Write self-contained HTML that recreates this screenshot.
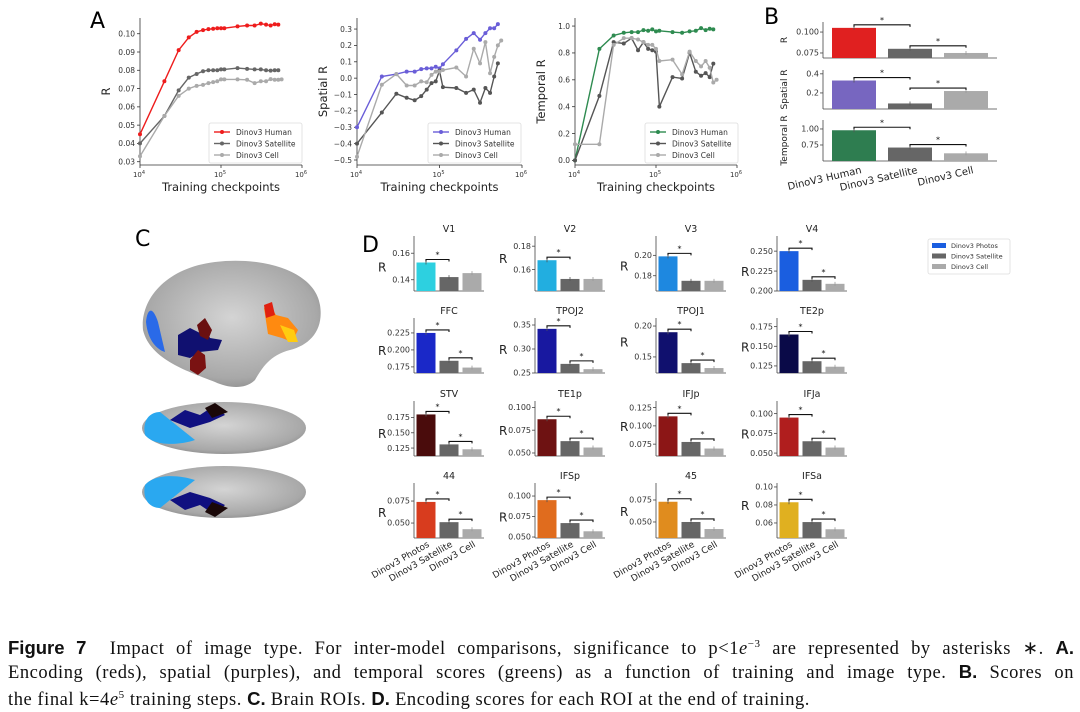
<!DOCTYPE html>
<html><head><meta charset="utf-8">
<style>
body{margin:0;background:#fff;width:1080px;height:707px;overflow:hidden;font-family:"DejaVu Sans","Liberation Sans",sans-serif}
svg text{font-family:"DejaVu Sans","Liberation Sans",sans-serif}
#cap{position:absolute;left:8px;top:633px;width:1066px;font-family:"Liberation Serif",serif;font-size:18.5px;letter-spacing:0.55px;line-height:22.5px;color:#111}
#cap div{white-space:nowrap;text-align:justify;text-align-last:justify}
#cap div.last{text-align-last:left}
#cap b{font-family:"Liberation Sans",sans-serif;font-weight:bold;letter-spacing:0}
</style></head><body>
<svg id="fig" width="1080" height="630" viewBox="0 0 1080 630" style="position:absolute;left:0;top:0">
<defs>
<radialGradient id="brainG" cx="50%" cy="45%" r="60%"><stop offset="0" stop-color="#d4d4d4"/><stop offset="0.8" stop-color="#a8a8a8"/><stop offset="1" stop-color="#8a8a8a"/></radialGradient>
</defs>
<text x="90" y="28" font-size="22">A</text>
<text x="764" y="24" font-size="22">B</text>
<text x="135" y="246" font-size="22">C</text>
<text x="362" y="252" font-size="22">D</text>
<g>
<path d="M143,330 C140,300 165,268 215,262 C265,256 315,272 320,305 C324,330 310,345 290,350 C270,355 262,368 255,380 C245,390 228,388 215,382 C190,372 150,360 143,330Z" fill="url(#brainG)"/>
<path d="M146,322 C147,310 152,304 158,322 L165,352 C158,350 148,342 146,322Z" fill="#2a6ae8"/>
<path d="M178,335 L190,328 L200,333 L205,325 L210,338 L222,340 L218,350 L200,352 L190,358 L178,355Z" fill="#101070"/>
<path d="M197,325 L205,318 L212,330 L208,340 L200,336Z" fill="#6a1010"/>
<path d="M190,360 L198,350 L205,355 L206,368 L198,375 L190,370Z" fill="#7a1212"/>
<path d="M264,308 L270,305 L276,315 L288,318 L298,330 L292,342 L282,338 L268,334Z" fill="#ff8a10"/>
<path d="M280,325 L294,330 L298,342 L288,342Z" fill="#ffcc10"/>
<path d="M264,305 L272,302 L275,315 L266,318Z" fill="#e02010"/>
<ellipse cx="224" cy="428" rx="82" ry="26" fill="url(#brainG)"/>
<path d="M145,435 C142,420 150,412 160,412 L180,428 L195,440 C180,445 155,447 145,435Z" fill="#2aa8f0"/>
<path d="M170,420 L185,410 L200,415 L215,405 L225,415 L210,422 L190,428Z" fill="#101080"/>
<path d="M205,408 L215,403 L228,412 L212,418Z" fill="#1a0808"/>
<ellipse cx="224" cy="492" rx="82" ry="26" fill="url(#brainG)"/>
<path d="M145,485 C142,500 150,508 160,508 L180,492 L195,480 C180,475 155,473 145,485Z" fill="#2aa8f0"/>
<path d="M170,500 L185,510 L200,505 L215,515 L225,505 L210,498 L190,492Z" fill="#101080"/>
<path d="M205,512 L215,517 L228,508 L212,502Z" fill="#1a0808"/>
</g>
</svg>
<div id="cap">
<div><b>Figure 7</b>&nbsp; Impact of image type. For inter-model comparisons, significance to p&lt;1<i>e</i><sup style="font-size:11px">−3</sup> are represented by asterisks ∗. <b>A.</b></div>
<div>Encoding (reds), spatial (purples), and temporal scores (greens) as a function of training and image type. <b>B.</b> Scores on</div>
<div class="last">the final k=4<i>e</i><sup style="font-size:11px">5</sup> training steps. <b>C.</b> Brain ROIs. <b>D.</b> Encoding scores for each ROI at the end of training.</div>
</div>
<script>
// ---- Panel A data ----
const stepsA = [1e4,2e4,3e4,4e4,5e4,6e4,7e4,8e4,9e4,1e5,1.1e5,1.6e5,2.1e5,2.6e5,3.1e5,3.6e5,4.1e5,4.6e5,5.1e5,5.6e5];
const encHuman = [0.045,0.074,0.091,0.098,0.101,0.102,0.1025,0.1027,0.103,0.103,0.103,0.104,0.1045,0.1045,0.1055,0.105,0.1045,0.1052,0.105];
const encSat = [0.040,0.055,0.069,0.076,0.078,0.0795,0.080,0.080,0.080,0.0805,0.0805,0.0812,0.0808,0.0805,0.0805,0.080,0.0798,0.080,0.080];
const encCell = [0.033,0.055,0.066,0.070,0.0715,0.072,0.073,0.0735,0.074,0.075,0.075,0.075,0.0748,0.073,0.074,0.074,0.0752,0.0748,0.0748,0.075];
const spaHuman = [-0.30,0.01,0.025,0.04,0.04,0.055,0.06,0.06,0.07,0.06,0.085,0.17,0.24,0.275,0.235,0.275,0.305,0.305,0.33];
const spaSat = [-0.40,-0.21,-0.095,-0.12,-0.135,-0.11,-0.07,-0.03,-0.02,0.045,-0.055,-0.06,-0.09,-0.07,-0.15,-0.06,-0.09,0.01,0.09];
const spaCell = [-0.48,-0.04,0.025,-0.045,-0.045,-0.02,-0.025,0.02,0.04,0.04,0.05,0.065,0.01,0.18,0.09,0.22,0.03,0.13,0.20,0.23];
const temHuman = [0.0,0.83,0.93,0.95,0.955,0.955,0.97,0.965,0.975,0.96,0.965,0.955,0.95,0.96,0.965,0.985,0.97,0.98,0.975];
const temSat = [0.0,0.48,0.88,0.87,0.91,0.82,0.88,0.83,0.82,0.81,0.40,0.62,0.61,0.80,0.66,0.63,0.65,0.62,0.72];
const temCell = [0.12,0.12,0.86,0.91,0.91,0.90,0.88,0.86,0.86,0.83,0.74,0.75,0.64,0.81,0.74,0.70,0.74,0.69,0.58,0.60];
const encTicks = [0.03,0.04,0.05,0.06,0.07,0.08,0.09,0.10];
const spaTicks = [-0.5,-0.4,-0.3,-0.2,-0.1,0.0,0.1,0.2,0.3];
const temTicks = [0.0,0.2,0.4,0.6,0.8,1.0];
const seriesNames = ["Dinov3 Human","Dinov3 Satellite","Dinov3 Cell"];
// ---- Panel B data ----
const modelsB = ["DinoV3 Human","Dinov3 Satellite","Dinov3 Cell"];
const bEnc = [0.105,0.080,0.075];
const bSpa = [0.33,0.09,0.22];
const bTem = [0.98,0.71,0.62];
// ---- Panel D data ----
const roiNames = ["V1","V2","V3","V4","FFC","TPOJ2","TPOJ1","TE2p","STV","TE1p","IFJp","IFJa","44","IFSp","45","IFSa"];
const roiPhotos = [0.153,0.168,0.199,0.250,0.225,0.342,0.190,0.165,0.180,0.087,0.113,0.095,0.074,0.095,0.073,0.083];
const roiSat = [0.142,0.152,0.175,0.214,0.184,0.269,0.140,0.131,0.131,0.063,0.078,0.065,0.051,0.067,0.050,0.061];
const roiCell = [0.145,0.152,0.175,0.209,0.174,0.258,0.132,0.124,0.123,0.056,0.069,0.057,0.043,0.057,0.042,0.053];
const roiTicks = [[0.14,0.16],[0.16,0.18],[0.18,0.20],[0.200,0.225,0.250],[0.175,0.200,0.225],[0.25,0.30,0.35],[0.15,0.20],[0.125,0.150,0.175],[0.125,0.150,0.175],[0.050,0.075,0.100],[0.075,0.100,0.125],[0.050,0.075,0.100],[0.050,0.075],[0.050,0.075,0.100],[0.050,0.075],[0.06,0.08,0.10]];
const roiLims = [[0.1315,0.173],[0.1417,0.1887],[0.165,0.219],[0.200,0.269],[0.166,0.247],[0.25,0.3646],[0.124,0.213],[0.116,0.186],[0.112,0.202],[0.0467,0.107],[0.0588,0.134],[0.0463,0.116],[0.033,0.0955],[0.0488,0.1159],[0.0318,0.0943],[0.0433,0.1044]];
const roiSig2 = [false,false,false,true,true,true,true,true,true,true,true,true,true,true,true,true];
const roiColors = ["#2dd0e0","#22aee0","#1e88e0","#1a5ee0","#1a28c8","#1818a0","#10106e","#0a0a48","#4a0c0c","#6e1212","#8c1616","#b01e1e","#d83c1e","#e06c1e","#e08c1e","#e0b020"];

const NS="http://www.w3.org/2000/svg";
const fig=document.getElementById('fig');
function mk(tag,attrs,parent,txt){const e=document.createElementNS(NS,tag);for(const k in attrs)e.setAttribute(k,attrs[k]);if(txt!==undefined)e.textContent=txt;(parent||fig).appendChild(e);return e;}
function fmt(v,d){return v.toFixed(d).replace('-','−');}

function lineChart(name,L,R,T,B,ymin,ymax,ticks,dec,ylabel,series,colors,legX,legY){
  const g=mk('g',{});
  
  
  const xs=v=>L+(R-L)*Math.log10(v/1e4)/2;
  const ys=v=>B-(B-T)*(v-ymin)/(ymax-ymin);
  mk('line',{x1:L,y1:T,x2:L,y2:B,stroke:'#333','stroke-width':0.8},g);
  mk('line',{x1:L,y1:B,x2:R,y2:B,stroke:'#333','stroke-width':0.8},g);
  ticks.forEach(t=>{const y=ys(t);mk('line',{x1:L-3,y1:y,x2:L,y2:y,stroke:'#333','stroke-width':0.8},g);
    const tl=mk('text',{x:L-5,y:y+2.8,'font-size':7.5,'text-anchor':'end',fill:'#333'},g,fmt(t,dec));
    });
  [[1e4,'4'],[1e5,'5'],[1e6,'6']].forEach(([v,e])=>{const x=xs(v);mk('line',{x1:x,y1:B,x2:x,y2:B+3,stroke:'#333','stroke-width':0.8},g);
    const t=mk('text',{x:x-1,y:B+12,'font-size':7,'text-anchor':'middle',fill:'#333'},g,'10');mk('tspan',{dy:-3,'font-size':5},t,e);});
  const xt=mk('text',{x:(L+R)/2,y:B+26,'font-size':11.5,'text-anchor':'middle',fill:'#222'},g,'Training checkpoints');
  
  const yt=mk('text',{x:0,y:0,'font-size':11.5,'text-anchor':'middle',fill:'#222',transform:`translate(${L-30},${(T+B)/2}) rotate(-90)`},g,ylabel);
  
  series.forEach((s,i)=>{
    const pts=s.map((v,j)=>xs(stepsA[j]).toFixed(1)+','+ys(v).toFixed(1)).join(' ');
    const pl=mk('polyline',{points:pts,fill:'none',stroke:colors[i],'stroke-width':1.4},g);
    
    s.forEach((v,j)=>{const c=mk('circle',{cx:xs(stepsA[j]),cy:ys(v),r:2,fill:colors[i]},g);
      });
  });
  const lg=mk('g',{},g);
  
  mk('rect',{x:legX,y:legY,width:93,height:40,rx:2,fill:'#fff',stroke:'#ddd','stroke-width':0.8},lg);
  seriesNames.forEach((n,i)=>{const y=legY+9+i*11.5;
    mk('line',{x1:legX+5,y1:y,x2:legX+21,y2:y,stroke:colors[i],'stroke-width':1.4},lg);
    mk('circle',{cx:legX+13,cy:y,r:2,fill:colors[i]},lg);
    const t=mk('text',{x:legX+27,y:y+2.8,'font-size':7.5,fill:'#333'},lg,n);
    });
}
lineChart('chart-encoding',140,302,18,165,0.0282,0.1086,encTicks,2,'R',[encHuman,encSat,encCell],['#ee1c1c','#666','#aaa'],209,123);
lineChart('chart-spatial',357,522,18,165,-0.5305,0.3675,spaTicks,1,'Spatial R',[spaHuman,spaSat,spaCell],['#6a5ed8','#555','#aaa'],428,123);
lineChart('chart-temporal',575,737,18,165,-0.034,1.06,temTicks,1,'Temporal R',[temHuman,temSat,temCell],['#2e8b50','#555','#aaa'],645,123);

function barAxes(name,L,R,T,B,ymin,ymax,ticks,dec,vals,colors,centers,bw,sig2,tfs,title,ylab,ylabMode){
  const g=mk('g',{});
  
  
  const ys=v=>B-(B-T)*(v-ymin)/(ymax-ymin);
  mk('line',{x1:L,y1:T,x2:L,y2:B,stroke:'#444','stroke-width':0.8},g);
  mk('line',{x1:L,y1:B,x2:R,y2:B,stroke:'#444','stroke-width':0.8},g);
  ticks.forEach(t=>{const y=ys(t);mk('line',{x1:L-3,y1:y,x2:L,y2:y,stroke:'#444','stroke-width':0.8},g);
    const tl=mk('text',{x:L-4,y:y+2.7,'font-size':tfs,'text-anchor':'end',fill:'#333'},g,t.toFixed(dec));
    });
  vals.forEach((v,i)=>{const y=Math.max(ys(v),T-5);
    const r=mk('rect',{x:centers[i]-bw/2,y:y,width:bw,height:B-y,fill:colors[i]},g);
    
    mk('line',{x1:centers[i],y1:y-2,x2:centers[i],y2:y+2,stroke:colors[i]==='#aaa'?'#999':'#555','stroke-width':0.8},g);});
  const y1=ys(vals[0])-3;
  mk('path',{d:`M${centers[0]},${y1+2}V${y1}H${centers[1]}V${y1+2}`,fill:'none',stroke:'#111','stroke-width':1.1},g);
  mk('text',{x:(centers[0]+centers[1])/2,y:y1-2,'font-size':8,'text-anchor':'middle',fill:'#111'},g,'*');
  if(sig2){const y2=ys(Math.max(vals[1],vals[2]))-3;
    mk('path',{d:`M${centers[1]},${y2+2}V${y2}H${centers[2]}V${y2+2}`,fill:'none',stroke:'#111','stroke-width':1.1},g);
    mk('text',{x:(centers[1]+centers[2])/2,y:y2-2,'font-size':8,'text-anchor':'middle',fill:'#111'},g,'*');}
  if(title){const t=mk('text',{x:(L+R)/2,y:T-4,'font-size':9.5,'text-anchor':'middle',fill:'#222'},g,title);
    }
  if(ylabMode==='D'){const tl=ticks.map(t=>ys(t));const yy=(Math.min(...tl)+Math.max(...tl))/2;
    const t=mk('text',{x:L-36,y:yy+5,'font-size':12,fill:'#222'},g,'R');}
  else if(ylab){const t=mk('text',{x:0,y:0,'font-size':9,'text-anchor':'middle',fill:'#222',transform:`translate(${L-36},${(T+B)/2}) rotate(-90)`},g,ylab);
    }
  return g;
}
const bC=[854,910,966];
barAxes('chart-b-encoding',823,997,22,58,0.069,0.112,[0.075,0.100],3,bEnc,['#e02020','#666','#aaa'],bC,44,true,8,null,'R');
barAxes('chart-b-spatial',823,997,70,109,0.032,0.44,[0.2,0.4],1,bSpa,['#7766c0','#666','#aaa'],bC,44,true,8,null,'Spatial R');
barAxes('chart-b-temporal',823,997,120,161,0.5,1.14,[0.75,1.00],2,bTem,['#2e7d50','#666','#aaa'],bC,44,true,8,null,'Temporal R');
modelsB.forEach((m,i)=>{const t=mk('text',{x:0,y:0,'font-size':10,'text-anchor':'end',fill:'#222',transform:`translate(${bC[i]+8},${173}) rotate(-13)`},fig,m);
  });

const colX=[414,535,656,777], rowB=[291,373,456,538];
roiNames.forEach((n,k)=>{const c=k%4,r=Math.floor(k/4);const L=colX[c],B=rowB[r];
  const cs=[L+12,L+35,L+58];
  const dec=roiTicks[k].some(t=>Math.abs(t*100-Math.round(t*100))>1e-6)?3:2;
  barAxes('chart-roi-'+n.toLowerCase(),L,L+70,B-55,B,roiLims[k][0],roiLims[k][1],roiTicks[k],dec,
    [roiPhotos[k],roiSat[k],roiCell[k]],[roiColors[k],'#666','#aaa'],cs,19,roiSig2[k],8,n,null,'D');
  if(r===3){["Dinov3 Photos","Dinov3 Satellite","Dinov3 Cell"].forEach((m,i)=>{
    const t=mk('text',{x:0,y:0,'font-size':9,'text-anchor':'end',fill:'#222',transform:`translate(${cs[i]+4},${B+8}) rotate(-30)`},fig,m);
    });}
});
const lg=mk('g',{});


mk('rect',{x:928,y:239,width:82,height:35,rx:2,fill:'#fff',stroke:'#ddd','stroke-width':0.8},lg);
[["Dinov3 Photos","#1a5ee0"],["Dinov3 Satellite","#666"],["Dinov3 Cell","#aaa"]].forEach(([n,c],i)=>{
  mk('rect',{x:932,y:243+i*10.5,width:14,height:5,fill:c},lg);
  const t=mk('text',{x:951,y:248+i*10.5,'font-size':6.5,fill:'#333'},lg,n);
  });
</script>
</body></html>
